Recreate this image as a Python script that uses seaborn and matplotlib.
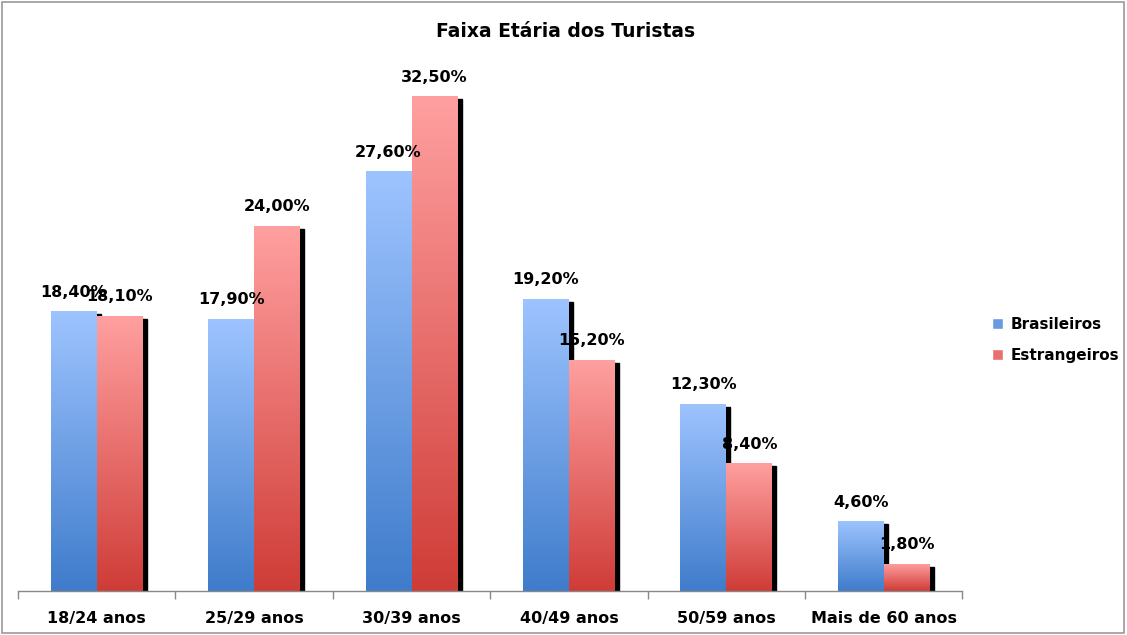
import numpy as np
import pandas as pd
import matplotlib
matplotlib.use("Agg")
import matplotlib.pyplot as plt
import seaborn as sns
from matplotlib.colors import LinearSegmentedColormap
from matplotlib.patches import Rectangle, Patch

# dados
faixas = ["18/24 anos", "25/29 anos", "30/39 anos", "40/49 anos", "50/59 anos", "Mais de 60 anos"]
brasileiros = [18.4, 17.9, 27.6, 19.2, 12.3, 4.6]
estrangeiros = [18.1, 24.0, 32.5, 15.2, 8.4, 1.8]
series = ["Brasileiros", "Estrangeiros"]

df = pd.DataFrame({
    "faixa": faixas * 2,
    "grupo": [series[0]] * len(faixas) + [series[1]] * len(faixas),
    "valor": brasileiros + estrangeiros,
})

sns.set_theme(style="white")
plt.rcParams["font.family"] = ["DejaVu Sans"]
plt.rcParams["text.color"] = "black"
plt.rcParams["xtick.color"] = "#888888"
plt.rcParams["xtick.labelcolor"] = "black"

fig = plt.figure(figsize=(11.27, 6.35), dpi=100)
ax = fig.add_axes([0.016, 0.069, 0.838, 0.868])

sns.barplot(data=df, x="faixa", y="valor", hue="grupo", order=faixas, hue_order=series,
            width=0.584, palette=["#6a9ae0", "#e87070"], ax=ax, legend=False, zorder=3)

grad = {
    "Brasileiros": LinearSegmentedColormap.from_list("b", ["#3f7ccb", "#9ec4ff"]),
    "Estrangeiros": LinearSegmentedColormap.from_list("r", ["#cf3c37", "#ffa0a0"]),
}
img = np.linspace(0, 1, 256).reshape(-1, 1)

for cont, nome in zip(ax.containers, series):
    for bar in cont:
        x0, w, h = bar.get_x(), bar.get_width(), bar.get_height()
        # sombra preta
        ax.add_patch(Rectangle((x0 + 0.026, 0), w, h - 0.2, color="black", zorder=1))
        bar.set_facecolor("none")
        bar.set_edgecolor("none")
        im = ax.imshow(img, cmap=grad[nome], origin="lower", aspect="auto",
                       extent=[x0, x0 + w, 0, h], zorder=2)
        clip = Rectangle((x0, 0), w, h, transform=ax.transData)
        im.set_clip_path(clip)
        ax.text(x0 + w / 2, h + 0.75, f"{h:.2f}%".replace(".", ","), ha="center", va="bottom",
                fontsize=11.5, fontweight="bold", color="black", zorder=5)

ax.set_xlim(-0.5, 5.5)
ax.set_ylim(0, 36.2)
ax.set_xlabel("")
ax.set_ylabel("")
ax.set_yticks([])
ax.set_xticks(np.arange(-0.5, 6, 1), minor=False)
ax.set_xticklabels([])
ax.set_xticks(range(6), minor=True)
ax.set_xticklabels(faixas, minor=True, fontsize=11.5, fontweight="bold")
ax.tick_params(axis="x", which="major", bottom=True, length=6, width=1, color="#888888", direction="out")
ax.tick_params(axis="x", which="minor", bottom=True, length=0, pad=14, labelcolor="black")
for s in ["top", "right", "left"]:
    ax.spines[s].set_visible(False)
ax.spines["bottom"].set_color("#888888")
ax.spines["bottom"].set_linewidth(1.0)

fig.text(0.502, 0.951, "Faixa Etária dos Turistas", ha="center", va="center",
         fontsize=13.5, fontweight="bold", color="black")

handles = [Patch(facecolor="#6a9ae0"), Patch(facecolor="#e87070")]
fig.legend(handles, series, loc="center left", bbox_to_anchor=(0.868, 0.465), frameon=False,
           prop={"weight": "bold", "size": 11}, handlelength=0.7, handleheight=0.7,
           labelspacing=1.05, handletextpad=0.5, labelcolor="black")

# moldura
fig.patches.append(Rectangle((0.002, 0.003), 0.995, 0.994, transform=fig.transFigure,
                             fill=False, edgecolor="#999999", linewidth=1.2))

fig.savefig("out.png", dpi=100)
